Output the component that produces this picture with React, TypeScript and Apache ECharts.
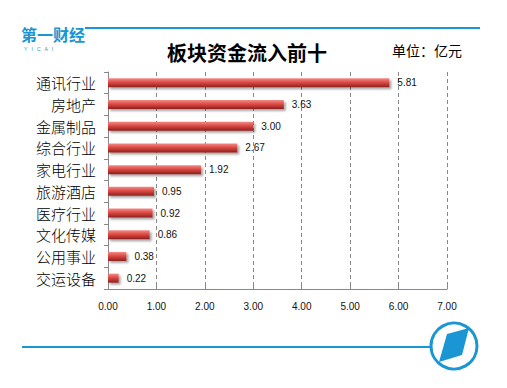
import React, { useEffect, useRef } from "react";
import * as echarts from "echarts";

const categories = ["通讯行业", "房地产", "金属制品", "综合行业", "家电行业", "旅游酒店", "医疗行业", "文化传媒", "公用事业", "交运设备"];
const values = [5.81, 3.63, 3.0, 2.67, 1.92, 0.95, 0.92, 0.86, 0.38, 0.22];
const titleText = "板块资金流入前十";
const unitText = "单位：亿元";

export default function App() {
  const ref = useRef<HTMLDivElement>(null);
  useEffect(() => {
    const chart = echarts.init(ref.current!, null, { renderer: "svg" });
    const blue = "#1a96d4";
    chart.setOption({
      animation: false,
      backgroundColor: "#ffffff",
      grid: { left: 108, right: 60, top: 72, bottom: 99 },
      xAxis: {
        type: "value",
        min: 0,
        max: 7,
        interval: 1,
        axisLine: { show: true, lineStyle: { color: "#888", width: 1 } },
        axisTick: { show: true, length: 4, inside: true, lineStyle: { color: "#888" } },
        axisLabel: {
          formatter: (v: number) => v.toFixed(2),
          fontSize: 10,
          color: "#111",
          fontFamily: "Liberation Sans",
          margin: 12,
        },
        splitLine: { show: true, lineStyle: { color: "#888", type: [4, 3], width: 1 } },
      },
      yAxis: {
        type: "category",
        data: categories,
        inverse: true,
        axisLine: { show: true, lineStyle: { color: "#888", width: 1 } },
        axisTick: { show: true, length: 4, lineStyle: { color: "#888" } },
        axisLabel: { fontSize: 15, color: "#000", fontFamily: "Noto Sans CJK SC", fontWeight: 300, margin: 12 },
        splitLine: { show: false },
      },
      series: [
        {
          type: "bar",
          data: values,
          barWidth: 9,
          itemStyle: {
            color: new echarts.graphic.LinearGradient(0, 0, 0, 1, [
              { offset: 0, color: "#f38a86" },
              { offset: 0.45, color: "#dc4a45" },
              { offset: 1, color: "#8e1e1c" },
            ]),
            shadowColor: "rgba(0,0,0,0.35)",
            shadowBlur: 2,
            shadowOffsetX: 2,
            shadowOffsetY: 2,
          },
          label: {
            show: true,
            position: "right",
            distance: 8,
            formatter: (p: any) => Number(p.value).toFixed(2),
            fontSize: 10,
            color: "#111",
            fontFamily: "Liberation Sans",
          },
        },
      ],
      graphic: [
        { type: "line", shape: { x1: 85, y1: 28, x2: 480, y2: 28 }, style: { stroke: blue, lineWidth: 2 } },
        {
          type: "text",
          x: 21,
          y: 26,
          style: { text: "第一财经", fontSize: 16, lineHeight: 16, fontWeight: "bold", fill: blue, fontFamily: "Noto Sans CJK SC", verticalAlign: "top" },
        },
        {
          type: "text",
          x: 24,
          y: 46,
          style: { text: "Y   I   C   A   I", fontSize: 5, lineHeight: 5, fill: blue, fontFamily: "Liberation Sans", verticalAlign: "top" },
        },
        {
          type: "text",
          x: 247,
          y: 52,
          style: { text: titleText, fontSize: 20, fontWeight: "bold", fill: "#000", fontFamily: "Noto Sans CJK SC", align: "center", verticalAlign: "middle" },
        },
        {
          type: "text",
          x: 392,
          y: 50,
          style: { text: unitText, fontSize: 14, fill: "#000", fontFamily: "Noto Sans CJK SC", verticalAlign: "middle" },
        },
        { type: "line", shape: { x1: 22, y1: 347, x2: 430, y2: 347 }, style: { stroke: blue, lineWidth: 2 } },
        { type: "circle", shape: { cx: 454, cy: 346, r: 23 }, style: { fill: "#fff", stroke: blue, lineWidth: 3 } },
        {
          type: "polygon",
          shape: { points: [[439, 362], [447, 334], [469, 328], [462, 355]] },
          style: { fill: blue },
        },
      ],
    });
    return () => chart.dispose();
  }, []);
  return <div ref={ref} style={{ width: 507, height: 388, position: "absolute", left: 0, top: 0 }} />;
}
